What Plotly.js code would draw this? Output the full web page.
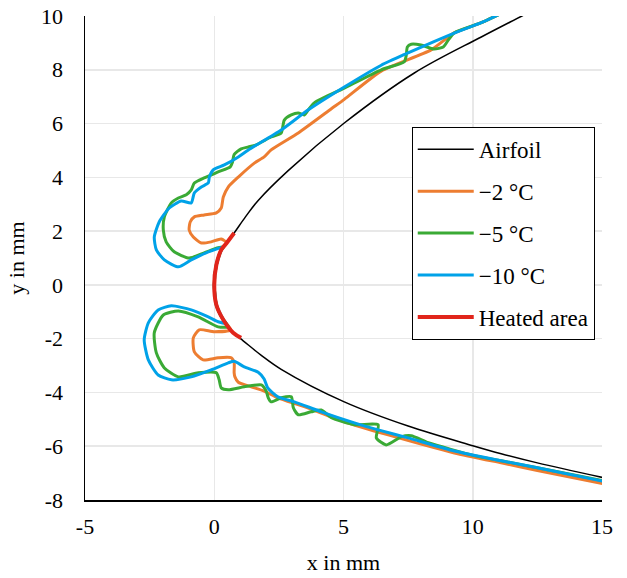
<!DOCTYPE html>
<html>
<head>
<meta charset="utf-8">
<script src="https://cdn.plot.ly/plotly-3.0.1.min.js"></script>
<style>html,body{margin:0;padding:0;background:#fff;}#chart{width:627px;height:578px;}</style>
</head>
<body>
<div id="chart"></div>
<script>
// ---- data (mm) ----
const seriesNames = ['Airfoil', '\u22122 \u00B0C', '\u22125 \u00B0C', '\u221210 \u00B0C', 'Heated area'];

const airfoilX = [12.4, 11.9, 10.33, 7.74, 5.03, 2.86, 1.70, 1.2, 0.77, 0.48, 0.27, 0.08, 0, 0.08, 0.35, 0.73, 1.12, 1.82, 2.59, 5.03, 7.5, 10.0, 11.1, 12.5, 15.2];
const airfoilY = [10.25, 10.0, 9.22, 7.88, 6.02, 4.25, 3.14, 2.52, 1.93, 1.56, 1.30, 0.74, 0, -0.74, -1.30, -1.78, -2.08, -2.62, -3.14, -4.35, -5.25, -5.98, -6.28, -6.62, -7.20];

const iceM2X = [11.0, 10.33, 9.28, 8.39, 6.46, 5.03, 4.53, 3.25, 2.20, 1.93, 1.55, 0.93, 0.54, 0.35, 0.27, 0.08, -0.39, -0.77, -0.93, -0.97, -0.81, -0.50, -0.12, 0.27, 0.48, 0.27, 0.08, 0, 0.08, 0.35, 0.64, 0, -0.58, -0.81, -0.77, -0.43, 0.15, 0.66, 0.77, 0.77, 0.80, 0.93, 1.43, 1.93, 2.46, 3.48, 5.03, 6.73, 9.29, 11.1, 12.5, 15.2];
const iceM2Y = [10.05, 9.75, 9.37, 8.74, 7.95, 6.90, 6.55, 5.65, 5.02, 4.76, 4.53, 4.01, 3.64, 3.27, 2.86, 2.68, 2.60, 2.53, 2.34, 2.04, 1.78, 1.56, 1.60, 1.71, 1.56, 1.30, 0.74, 0, -0.74, -1.30, -1.67, -1.74, -1.67, -1.97, -2.49, -2.79, -2.71, -2.71, -2.90, -3.27, -3.42, -3.62, -3.79, -3.95, -4.20, -4.53, -5.09, -5.58, -6.25, -6.62, -6.90, -7.42];

const iceM5X = [11.0, 10.33, 9.28, 9.05, 8.86, 8.5, 8.0, 7.62, 7.47, 7.43, 7.35, 6.46, 5.03, 3.87, 3.64, 3.48, 3.25, 2.98, 2.71, 2.59, 2.20, 1.6, 1.32, 1.04, 0.77, 0.70, 0.62, 0.15, -0.39, -0.77, -0.89, -1.08, -1.39, -1.66, -1.93, -1.97, -1.86, -1.55, -0.97, -0.39, 0.15, 0.36, 0.27, 0.08, 0, 0.08, 0.35, 0.55, 0.15, -0.62, -1.39, -1.97, -2.32, -2.24, -1.93, -1.39, -0.62, 0.08, 0.19, 0.27, 0.54, 1.16, 1.82, 2.01, 2.09, 2.20, 2.59, 2.98, 3.06, 3.25, 3.75, 4.14, 4.53, 5.42, 6.34, 6.27, 6.65, 7.23, 7.62, 8.28, 10.06, 11.1, 12.5, 15.2];
const iceM5Y = [10.05, 9.75, 9.37, 9.10, 8.85, 8.77, 8.92, 8.95, 8.85, 8.55, 8.30, 8.00, 7.32, 6.77, 6.51, 6.32, 6.39, 6.32, 6.13, 5.65, 5.50, 5.20, 5.13, 5.06, 4.85, 4.55, 4.39, 4.20, 3.98, 3.79, 3.53, 3.35, 3.23, 3.05, 2.53, 2.04, 1.60, 1.23, 1.00, 1.19, 1.38, 1.41, 1.30, 0.74, 0, -0.74, -1.30, -1.56, -1.56, -1.19, -0.97, -1.12, -1.78, -2.53, -3.09, -3.42, -3.27, -3.27, -3.53, -3.83, -3.90, -3.79, -3.72, -3.95, -4.20, -4.35, -4.20, -4.16, -4.57, -4.83, -4.72, -4.65, -4.94, -5.20, -5.20, -5.69, -5.95, -5.65, -5.61, -5.87, -6.35, -6.54, -6.80, -7.31];

const iceM10X = [11.0, 10.33, 9.5, 8.5, 7.43, 6.46, 5.03, 3.64, 2.59, 1.32, 0.93, 0.39, -0.04, -0.19, -0.23, -0.50, -0.77, -0.89, -1.28, -1.74, -2.13, -2.32, -2.24, -1.93, -1.39, -0.89, -0.23, 0.36, 0.27, 0.08, 0, 0.08, 0.35, 0.46, 0.15, -0.23, -0.89, -1.66, -2.17, -2.55, -2.71, -2.55, -2.17, -1.66, -0.89, -0.12, 0.54, 0.77, 1.16, 1.70, 1.93, 2.07, 2.46, 3.10, 4.14, 5.42, 6.34, 7.50, 9.29, 11.1, 12.5, 15.2];
const iceM10Y = [10.05, 9.75, 9.45, 9.05, 8.60, 8.17, 7.36, 6.51, 5.76, 5.02, 4.76, 4.46, 4.28, 4.01, 3.79, 3.64, 3.42, 3.05, 3.12, 2.86, 2.34, 1.78, 1.30, 0.93, 0.67, 0.93, 1.23, 1.41, 1.30, 0.74, 0, -0.74, -1.30, -1.43, -1.37, -1.19, -0.93, -0.78, -0.93, -1.41, -2.04, -2.79, -3.35, -3.53, -3.42, -3.16, -2.90, -2.84, -3.05, -3.25, -3.50, -3.83, -4.16, -4.35, -4.72, -5.13, -5.39, -5.69, -6.18, -6.54, -6.80, -7.33];

const heatedX = [0.77, 0.48, 0.27, 0.08, 0, 0.08, 0.35, 0.73, 1.04];
const heatedY = [1.93, 1.56, 1.30, 0.74, 0, -0.74, -1.30, -1.78, -1.97];

const xTickVals = [-5, 0, 5, 10, 15];
const xTickText = ['-5', '0', '5', '10', '15'];
const yTickVals = [-8, -6, -4, -2, 0, 2, 4, 6, 8, 10];
const yTickText = ['-8', '-6', '-4', '-2', '0', '2', '4', '6', '8', '10'];

// ---- styles ----
const FONT = '"Liberation Serif", "Times New Roman", Times, serif';
const colors = ['#000000', '#ED7D31', '#3AAA35', '#00A2E8', '#E1251B'];
const widths = [1.5, 3, 3, 3, 4];
const smooth = [1, 0.6, 0.6, 0.6, 1];
const xs = [airfoilX, iceM2X, iceM5X, iceM10X, heatedX];
const ys = [airfoilY, iceM2Y, iceM5Y, iceM10Y, heatedY];

const traces = seriesNames.map((name, i) => ({
  type: 'scatter', mode: 'lines', name: name,
  x: xs[i], y: ys[i],
  legendgroup: 'g' + i,
  line: {color: colors[i], width: widths[i], shape: 'spline', smoothing: smooth[i]},
  hoverinfo: 'skip'
}));

const layout = {
  width: 627, height: 578,
  margin: {l: 85, r: 25, t: 16, b: 78, pad: 0},
  paper_bgcolor: '#ffffff', plot_bgcolor: '#ffffff',
  font: {family: FONT, size: 22, color: '#000'},
  showlegend: true,
  xaxis: {
    range: [-5, 15], tickmode: 'array', tickvals: xTickVals, ticktext: xTickText,
    showgrid: true, gridcolor: '#e8e8e8', gridwidth: 1.5, zeroline: false,
    showline: true, linecolor: '#000', linewidth: 1.5, ticks: '',
    tickfont: {family: FONT, size: 22, color: '#000'}, ticklabelstandoff: 6,
    title: {text: 'x in mm', font: {family: FONT, size: 22, color: '#000'}, standoff: 16},
    automargin: false, fixedrange: true
  },
  yaxis: {
    range: [-8, 10], tickmode: 'array', tickvals: yTickVals, ticktext: yTickText,
    showgrid: true, gridcolor: '#e8e8e8', gridwidth: 1.5, zeroline: false,
    showline: true, linecolor: '#000', linewidth: 1.5, ticks: '',
    tickfont: {family: FONT, size: 22, color: '#000'}, ticklabelstandoff: 16,
    title: {text: 'y in mm', font: {family: FONT, size: 22, color: '#000'}, standoff: 10},
    automargin: false, fixedrange: true
  },
  legend: {
    x: 0.632, y: 0.771, xanchor: 'left', yanchor: 'top',
    bgcolor: '#ffffff', bordercolor: '#000', borderwidth: 1,
    font: {family: FONT, size: 23, color: '#000'},
    itemwidth: 56, tracegroupgap: 9
  }
};

Plotly.newPlot('chart', traces, layout, {staticPlot: true, displayModeBar: false});
</script>
</body>
</html>
